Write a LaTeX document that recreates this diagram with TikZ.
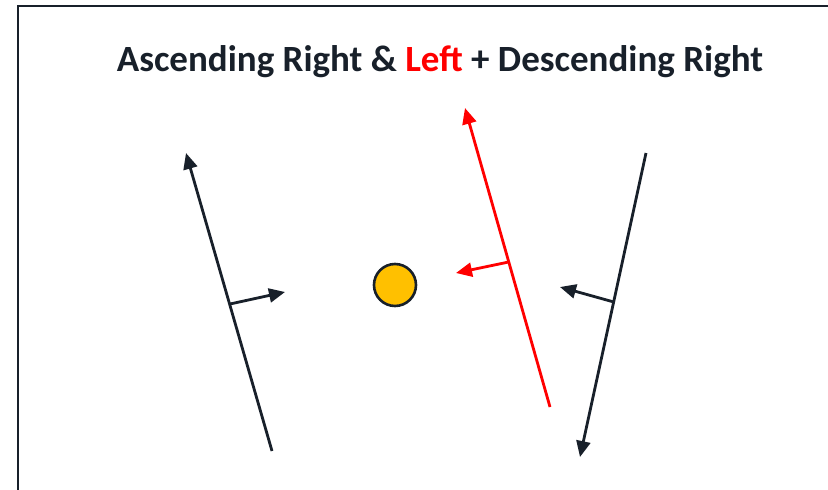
\documentclass[tikz,border=0pt]{standalone}
\usepackage{fontspec}
\setmainfont{Carlito}
\usetikzlibrary{arrows.meta,calc}
\definecolor{ink}{RGB}{24,32,42}
\definecolor{sun}{RGB}{255,192,0}
\tikzset{
  trend/.style = {-{Triangle[length=16pt,width=14pt]}, line width=2.8pt, draw=ink},
  push/.style  = {trend},
  hot/.style   = {draw=red},
  frame/.style = {line width=2.6pt, draw=ink},
  ball/.style  = {circle, draw=ink, line width=2.6pt, fill=sun, minimum size=42pt, inner sep=0pt},
  title/.style = {font=\fontsize{37}{42}\selectfont\bfseries, text=ink},
}
\begin{document}
\begin{tikzpicture}[x=1pt,y=-1pt]
  \useasboundingbox (0,0) rectangle (828,490);
  % open frame
  \coordinate (fbl) at (18,492);
  \coordinate (ftl) at (18,6);
  \coordinate (ftr) at (830,6);
  \draw[frame] (fbl) -- (ftl) -- (ftr);
  \node[title] (head) at (440,62) {Ascending Right \& \textcolor{red}{Left} + Descending Right};
  \node[ball] (price) at (395,285) {};
  % ascending right
  \coordinate (a1) at (272,451);
  \coordinate (a2) at (186,153);
  \coordinate (af) at ($(a1)!0.493!(a2)$);
  \coordinate (at) at (285,292);
  \draw[trend] (a1) -- (a2);
  \draw[push] (af) -- (at);
  % ascending left
  \coordinate (l1) at (550,407);
  \coordinate (l2) at (465,108);
  \coordinate (lf) at ($(l1)!0.485!(l2)$);
  \coordinate (lt) at (456,273);
  \draw[trend, hot] (l1) -- (l2);
  \draw[push, hot] (lf) -- (lt);
  % descending right
  \coordinate (d1) at (646,153);
  \coordinate (d2) at (580,457);
  \coordinate (df) at ($(d1)!0.49!(d2)$);
  \coordinate (dt) at (560,287);
  \draw[trend] (d1) -- (d2);
  \draw[push] (df) -- (dt);
\end{tikzpicture}
\end{document}
